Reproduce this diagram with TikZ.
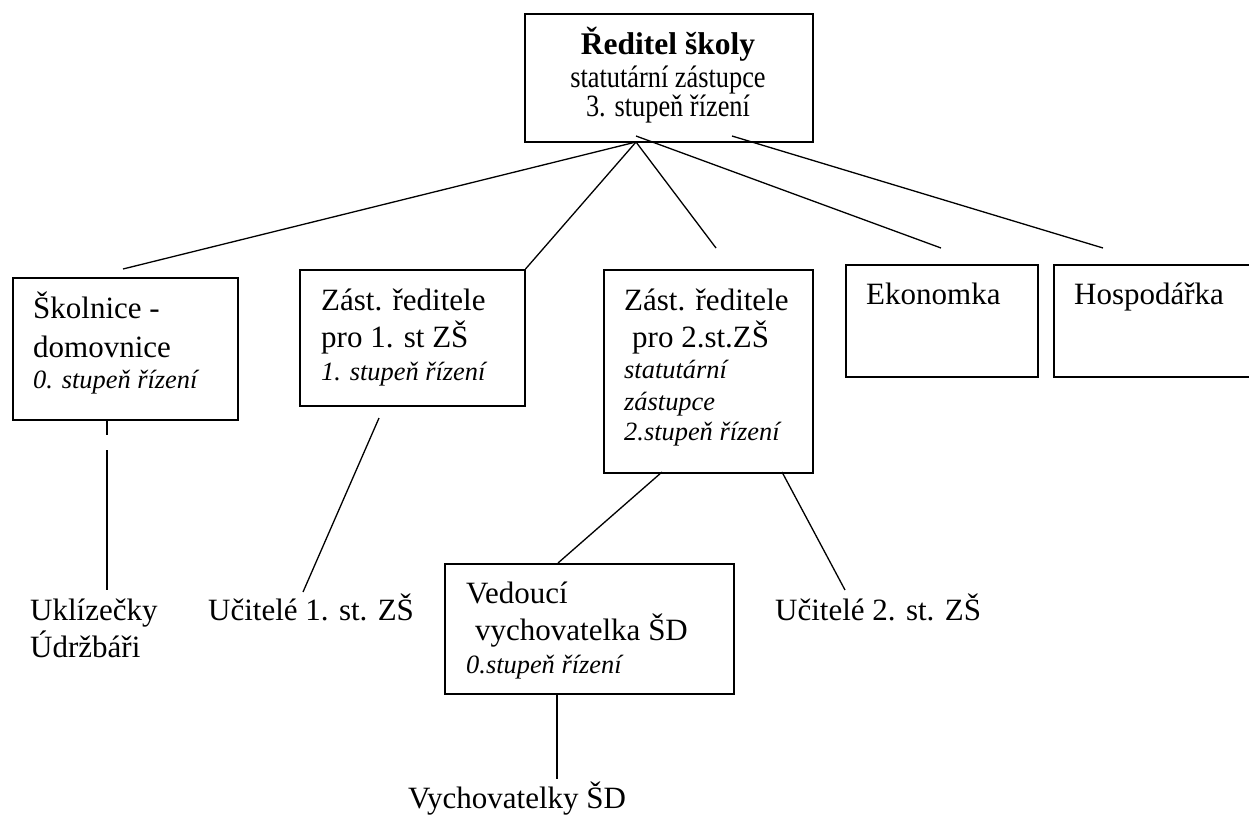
\documentclass[tikz,border=0pt]{standalone}
\usepackage{fontspec}
\setmainfont{Liberation Serif}
\newfontfamily\narrowserif{Liberation Serif}[FakeStretch=0.85]
\begin{document}
\begin{tikzpicture}[x=1pt,y=-1pt,
  box/.style={draw=black, line width=1.5pt, inner sep=0pt, anchor=north west},
  conn/.style={draw=black, line width=1.3pt},
  txt/.style={inner sep=0pt, anchor=base west, font=\fontsize{31}{34}\selectfont},
  itxt/.style={inner sep=0pt, anchor=base west, font=\fontsize{26.4}{30}\selectfont\itshape},
  ctxt/.style={inner sep=0pt, anchor=base, font=\narrowserif\fontsize{31}{34}\selectfont},
  btxt/.style={inner sep=0pt, anchor=base, font=\fontsize{31.5}{34}\selectfont\bfseries}]
\useasboundingbox (0,0) rectangle (1249,814);
% boxes
\node[box, minimum width=288, minimum height=128] (ns) at (524,13) {};
\node[box, minimum width=225, minimum height=142] (skol) at (12,277) {};
\node[box, minimum width=225, minimum height=136] (zr1) at (299,269) {};
\node[box, minimum width=209, minimum height=203] (zr2) at (603,269) {};
\node[box, minimum width=192, minimum height=112] (eko) at (845,264) {};
\node[box, minimum width=199, minimum height=112] (hosp) at (1053,264) {};
\node[box, minimum width=289, minimum height=130] (ved) at (444,563) {};
% texts
\node[btxt] (t-ns1) at (668,54) {Ředitel školy};
\node[ctxt] (t-ns2) at (668,87) {statutární zástupce};
\node[ctxt] (t-ns3) at (668,116) {3. stupeň řízení};
\node[txt] (t-sk1) at (33,318) {Školnice -};
\node[txt] (t-sk2) at (33,357) {domovnice};
\node[itxt] (t-sk3) at (33,388) {0. stupeň řízení};
\node[txt] (t-z11) at (321,310) {Zást. ředitele};
\node[txt] (t-z12) at (321,347) {pro 1. st ZŠ};
\node[itxt] (t-z13) at (321,380) {1. stupeň řízení};
\node[txt] (t-z21) at (624,310) {Zást. ředitele};
\node[txt] (t-z22) at (632,347) {pro 2.st.ZŠ};
\node[itxt] (t-z23) at (624,378) {statutární};
\node[itxt] (t-z24) at (624,410) {zástupce};
\node[itxt] (t-z25) at (624,440) {2.stupeň řízení};
\node[txt] (t-eko) at (866,304) {Ekonomka};
\node[txt] (t-hosp) at (1074,304) {Hospodářka};
\node[txt] (t-v1) at (466,603) {Vedoucí};
\node[txt] (t-v2) at (475,640) {vychovatelka ŠD};
\node[itxt] (t-v3) at (466,673) {0.stupeň řízení};
\node[txt] (ukl) at (30,620) {Uklízečky};
\node[txt] (udr) at (30,657) {Údržbáři};
\node[txt] (uc1) at (208,620) {Učitelé 1. st. ZŠ};
\node[txt] (uc2) at (775,620) {Učitelé 2. st. ZŠ};
\node[txt] (vych) at (408,808) {Vychovatelky ŠD};
% connector end points
\coordinate (hub) at (636,142);
\coordinate (hubE) at (636,136);
\coordinate (hubH) at (732,136);
\coordinate (skTop) at (123,269);
\coordinate (z2Top) at (716,248);
\coordinate (ekTop) at (941,248);
\coordinate (hoTop) at (1103,248);
\coordinate (skB1) at (107,419);
\coordinate (skB2) at (107,435);
\coordinate (skB3) at (107,450);
\coordinate (uklTop) at (107,590);
\coordinate (z1B) at (379,418);
\coordinate (uc1Top) at (303,592);
\coordinate (z2BL) at (662,472);
\coordinate (vedTop) at (558,563);
\coordinate (z2BR) at (782,472);
\coordinate (uc2Top) at (845,590);
\coordinate (vedB) at (557,693);
\coordinate (vychTop) at (557,779);
% connectors
\draw[conn] (hub) -- (skTop);
\draw[conn] (hub) -- (zr1.north east);
\draw[conn] (hub) -- (z2Top);
\draw[conn] (hubE) -- (ekTop);
\draw[conn] (hubH) -- (hoTop);
\draw[conn] (skB1) -- (skB2);
\draw[conn] (skB3) -- (uklTop);
\draw[conn] (z1B) -- (uc1Top);
\draw[conn] (z2BL) -- (vedTop);
\draw[conn] (z2BR) -- (uc2Top);
\draw[conn] (vedB) -- (vychTop);
\end{tikzpicture}
\end{document}
